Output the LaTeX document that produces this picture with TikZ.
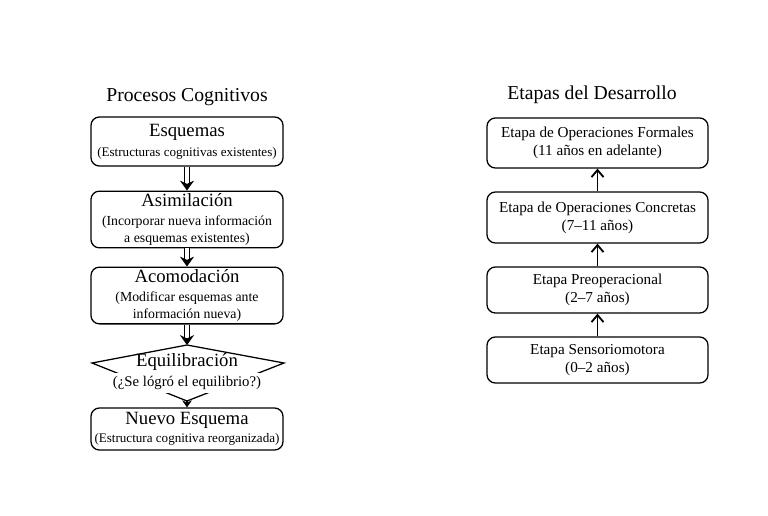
\documentclass[tikz,border=0pt]{standalone}
\usepackage{fontspec}
\setmainfont{Liberation Serif}
\usetikzlibrary{arrows.meta}
\newcommand\headfont{\fontsize{13.3}{14}\selectfont}
\newcommand\subfont{\fontsize{9.8}{10.8}\selectfont}
\newcommand\smallsub{\fontsize{9.3}{10.5}\selectfont}
\newcommand\askfont{\fontsize{10.5}{12}\selectfont}
\newcommand\stagefont{\fontsize{10.8}{13}\selectfont}

\begin{document}
\begin{tikzpicture}
  [ x=0.025cm, y=-0.025cm,
    box1/.style={rectangle, rounded corners=6pt, draw=black, line width=0.9pt, minimum width=4.8cm, align=center, inner sep=2pt, fill=white},
    box2/.style={rectangle, rounded corners=6pt, draw=black, line width=0.9pt, minimum width=5.525cm, align=center, inner sep=2pt, fill=white, font=\stagefont},
    title1/.style={font=\fontsize{14}{15}\selectfont},
    line1/.style={double, double distance=2.4pt, line width=0.8pt, -{Stealth[length=7pt, width=10pt]}},
    line2/.style={line width=1.3pt, -{Straight Barb[length=5pt, width=8.5pt]}},
    line3/.style={line width=0.9pt, -{Stealth[length=5pt, width=7pt]}},
    diam/.style={line width=0.9pt, black}
  ]
  \useasboundingbox (0,0) rectangle (768,515);

  % left column
  \node[title1] (proctitle) at (187,97) {Procesos Cognitivos};
  \node[box1, minimum height=1.225cm] (esquemas) at (187,141.5)
    {{\headfont Esquemas}\\[2pt] \smallsub (Estructuras cognitivas existentes)};
  \node[box1, minimum height=1.375cm] (asimilacion) at (187,219.5)
    {{\headfont Asimilación}\\[1pt] \subfont (Incorporar nueva información\\ \subfont a esquemas existentes)};
  \node[box1, minimum height=1.375cm] (acomodacion) at (187,295.5)
    {{\headfont Acomodación}\\[1pt] \subfont (Modificar esquemas ante\\ \subfont información nueva)};

  \coordinate (eqtop) at (187,345);
  \coordinate (eqleft) at (92,363);
  \coordinate (eqright) at (284,363);
  \coordinate (eqbottom) at (187,401);
  \draw [diam] (eqtop) -- (eqright) -- (eqbottom) -- (eqleft) -- cycle;
  \node[font=\headfont, inner sep=1pt] (eqtitle) at (187,362) {Equilibración};
  \node[font=\askfont, fill=white, inner sep=2pt] (eqquestion) at (187,383) {(¿Se lógró el equilibrio?)};

  \node[box1, minimum height=1.05cm] (nuevo) at (187,429)
    {{\headfont Nuevo Esquema}\\[1pt] \smallsub (Estructura cognitiva reorganizada)};

  \draw [line1] (esquemas) -- (asimilacion);
  \draw [line1] (asimilacion) -- (acomodacion);
  \draw [line1] (acomodacion) -- (eqtop);
  \draw [line3] (eqbottom) -- (nuevo);

  % right column
  \node[title1] (etatitle) at (592,95) {Etapas del Desarrollo};
  \node[box2, minimum height=1.25cm] (formales) at (597.5,143)
    {Etapa de Operaciones Formales\\ (11 años en adelante)};
  \node[box2, minimum height=1.275cm] (concretas) at (597.5,217.5)
    {Etapa de Operaciones Concretas\\ (7--11 años)};
  \node[box2, minimum height=1.15cm] (preop) at (597.5,290)
    {Etapa Preoperacional\\ (2--7 años)};
  \node[box2, minimum height=1.15cm] (sensorio) at (597.5,360)
    {Etapa Sensoriomotora\\ (0--2 años)};

  \draw [line2] (concretas) -- (formales);
  \draw [line2] (preop) -- (concretas);
  \draw [line2] (sensorio) -- (preop);
\end{tikzpicture}
\end{document}
